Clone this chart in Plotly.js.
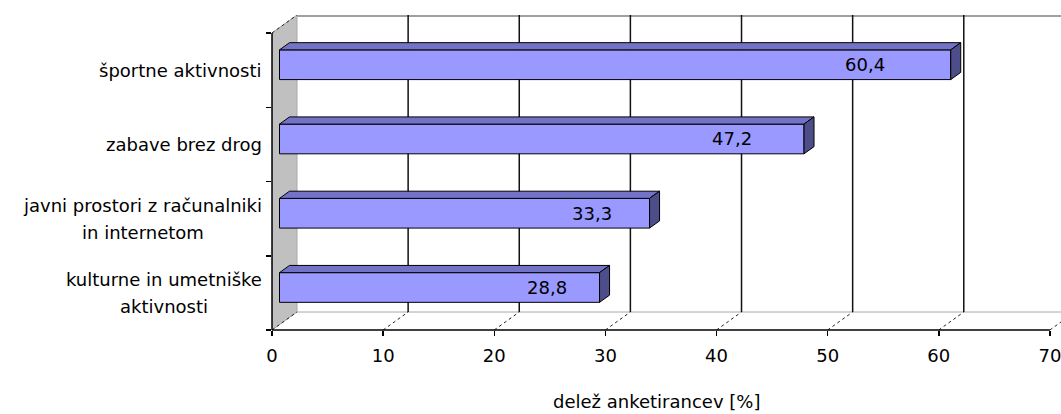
<!DOCTYPE html>
<html><head><meta charset="utf-8">
<script src="https://cdn.plot.ly/plotly-3.0.1.min.js"></script>
<style>html,body{margin:0;padding:0;background:#fff}</style>
</head><body><div id="chart" style="width:1061px;height:414px"></div>
<script>
// ---- data ----
const categories = ['kulturne in umetniške<br>aktivnosti', 'javni prostori z računalniki<br>in internetom', 'zabave brez drog', 'športne aktivnosti'];
const values = [28.8, 33.3, 47.2, 60.4];
const xTickVals = [0, 10, 20, 30, 40, 50, 60, 70];
const axisTitle = 'delež anketirancev [%]';

// ---- style / geometry ----
const FONT = 'DejaVu Sans';
const FS = 18;
const W = 1061, H = 414;
const ML = 272, MR = 0, MT = 15, MB = 84;
const PXX = 11.113;            // px per x unit
const PXY = 74.25;             // px per category band
const DX = 25 / PXX, DY = 18 / PXY;   // full 3D depth in data units
const BW = 0.40;
const FRONT = 0.3, DEPTH = 0.4;
const fx = FRONT * DX, fy = FRONT * DY, bdx = DEPTH * DX, bdy = DEPTH * DY;
const idx = categories.map((c, i) => i);
const xMax = (W - ML - MR) / PXX;
const yMin = -0.5, yMax = categories.length - 0.5 + DY;

const traces = [];
traces.push({
  type: 'bar', orientation: 'h', y: idx, x: values, base: fx,
  width: BW, offset: -BW / 2 + fy,
  marker: {color: '#9999FF', line: {color: '#000', width: 1}},
  hoverinfo: 'skip', showlegend: false
});
values.forEach((v, i) => {
  const x0 = fx, x1 = fx + v, yt = i + fy + BW / 2, yb = i + fy - BW / 2;
  traces.push({
    type: 'scatter', mode: 'lines', fill: 'toself', fillcolor: '#7272C6',
    x: [x0, x1, x1 + bdx, x0 + bdx, x0], y: [yt, yt, yt + bdy, yt + bdy, yt],
    line: {color: '#000', width: 1}, hoverinfo: 'skip', showlegend: false
  });
  traces.push({
    type: 'scatter', mode: 'lines', fill: 'toself', fillcolor: '#4D4D8A',
    x: [x1, x1 + bdx, x1 + bdx, x1, x1], y: [yt, yt + bdy, yb + bdy, yb, yt],
    line: {color: '#000', width: 1}, hoverinfo: 'skip', showlegend: false
  });
});

const shapes = [];
// left side wall
shapes.push({type: 'path', xref: 'x', yref: 'y', layer: 'below',
  path: `M0,${yMin} L${DX},${yMin + DY} L${DX},${yMax} L0,${yMax - DY} Z`,
  fillcolor: '#C0C0C0', line: {color: '#A8A8A8', width: 1}});
// back wall top edge
shapes.push({type: 'line', xref: 'x', yref: 'paper', layer: 'below',
  x0: DX, x1: xMax + 5, y0: 0.997, y1: 0.997, line: {color: '#A0A0A0', width: 2}});
// floor back edge
shapes.push({type: 'line', xref: 'x', yref: 'y', layer: 'below',
  x0: DX, x1: xMax + 5, y0: yMin + DY, y1: yMin + DY, line: {color: '#A8A8A8', width: 1}});
// back wall gridlines and floor diagonals
xTickVals.forEach(t => {
  if (t > 0) {
    shapes.push({type: 'line', xref: 'x', yref: 'y', layer: 'below',
      x0: t + DX, x1: t + DX, y0: yMin + DY, y1: yMax, line: {color: '#111', width: 1.5}});
  }
  shapes.push({type: 'line', xref: 'x', yref: 'y', layer: 'below',
    x0: t, x1: t + DX, y0: yMin, y1: yMin + DY, line: {color: '#222', width: 1, dash: 'dot'}});
});
// top-left diagonal
shapes.push({type: 'line', xref: 'x', yref: 'y', layer: 'below',
  x0: 0, x1: DX, y0: yMax - DY, y1: yMax, line: {color: '#222', width: 1, dash: 'dot'}});
// front axes lines
shapes.push({type: 'line', xref: 'x', yref: 'paper', layer: 'above',
  x0: 0, x1: 70, y0: 0, y1: 0, line: {color: '#000', width: 1.5}});
shapes.push({type: 'line', xref: 'paper', yref: 'y', layer: 'above',
  x0: 0, x1: 0, y0: yMin, y1: yMax - DY, line: {color: '#000', width: 1.5}});

// text measuring for centred multi-line category labels
const cv = document.createElement('canvas').getContext('2d');
cv.font = `${FS}px "${FONT}"`;
const annotations = [];
categories.forEach((c, i) => {
  const lines = c.split('<br>');
  const wmax = Math.max(...lines.map(l => cv.measureText(l).width));
  lines.forEach((l, k) => {
    annotations.push({xref: 'paper', yref: 'y', x: 0, y: i, xanchor: 'center', yanchor: 'middle',
      xshift: -10 - wmax / 2, yshift: ((lines.length - 1) / 2 - k) * 27,
      text: l, showarrow: false, font: {family: FONT, size: FS, color: '#000'}});
  });
});
values.forEach((v, i) => {
  annotations.push({xref: 'x', yref: 'y', x: fx + 0.905 * v, y: i + fy, xanchor: 'right', yanchor: 'middle',
    text: v.toFixed(1).replace('.', ','), showarrow: false, font: {family: FONT, size: FS, color: '#000'}});
});
annotations.push({xref: 'paper', yref: 'paper', x: (656 - ML) / (W - ML - MR), y: (330 - 401) / (H - MT - MB),
  xanchor: 'center', yanchor: 'middle', text: axisTitle, showarrow: false,
  font: {family: FONT, size: FS, color: '#000'}});

const layout = {
  width: W, height: H,
  margin: {l: ML, r: MR, t: MT, b: MB, pad: 0},
  paper_bgcolor: '#fff', plot_bgcolor: '#fff',
  showlegend: false, bargap: 0,
  xaxis: {range: [0, xMax], tickvals: xTickVals, ticks: 'outside', ticklen: 5, tickwidth: 1.5, tickcolor: '#000',
    showgrid: false, zeroline: false, showline: false, ticklabelstandoff: 4, ticklabeloverflow: 'allow',
    tickfont: {family: FONT, size: FS, color: '#000'}, fixedrange: true},
  yaxis: {range: [yMin, yMax], tickvals: [-0.5, 0.5, 1.5, 2.5, 3.5], ticktext: ['', '', '', '', ''],
    ticks: 'outside', ticklen: 5, tickwidth: 1.5, tickcolor: '#000', showticklabels: false,
    showgrid: false, zeroline: false, showline: false, fixedrange: true},
  shapes: shapes,
  annotations: annotations
};
Plotly.newPlot('chart', traces, layout, {displayModeBar: false, staticPlot: true});
</script>
</body></html>
